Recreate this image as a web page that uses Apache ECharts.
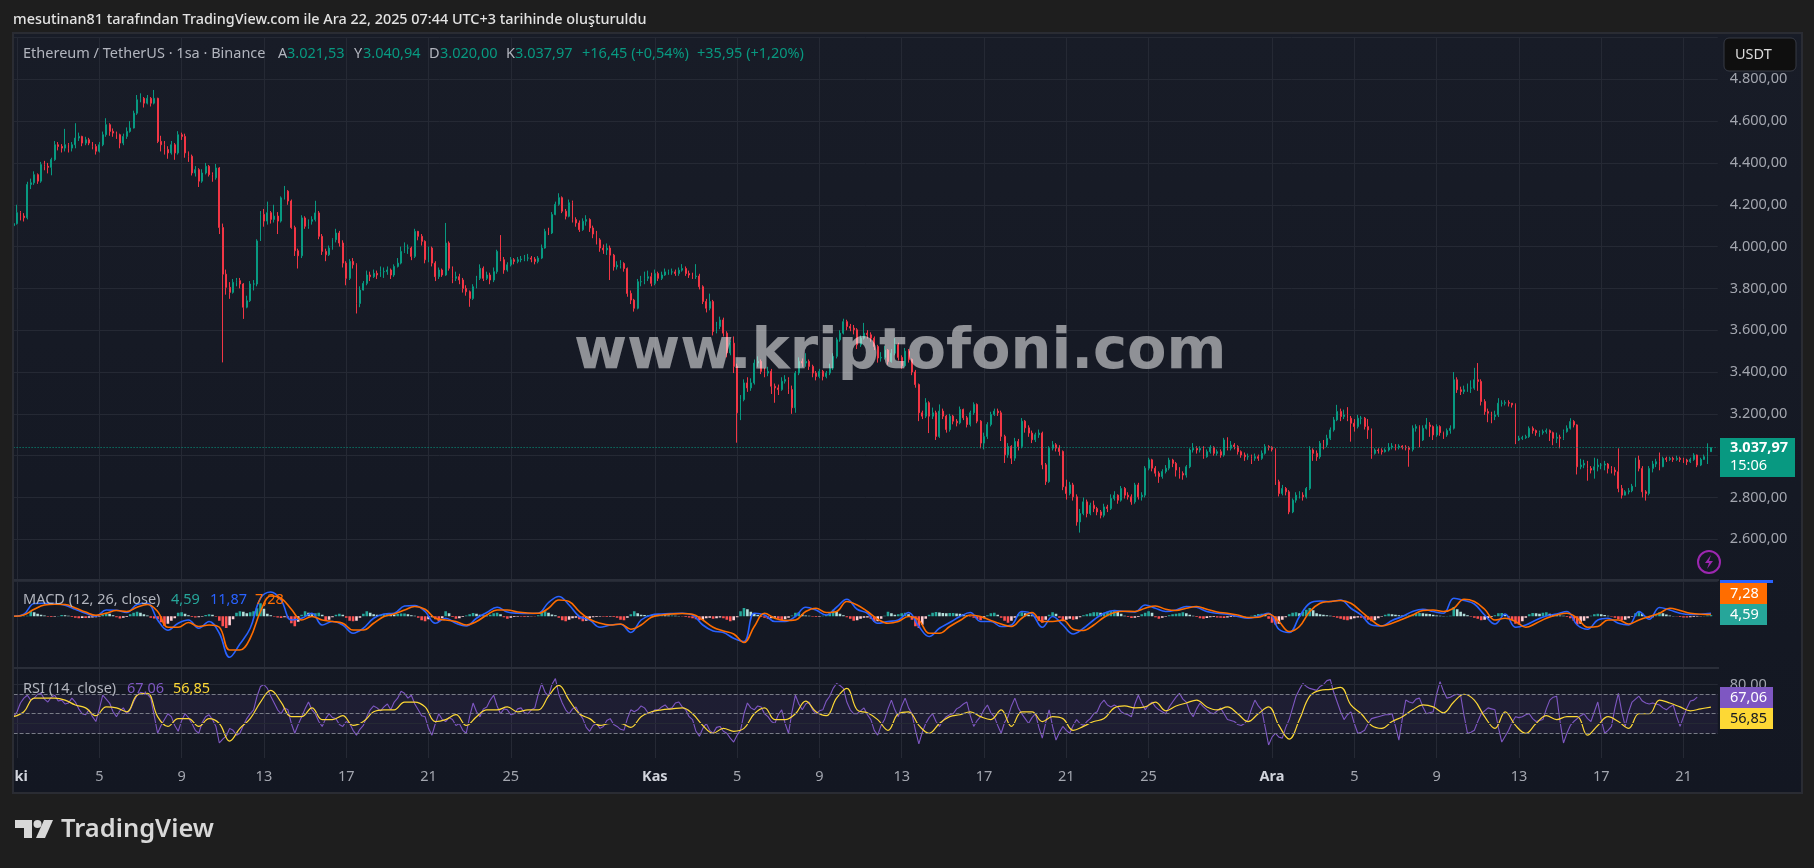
<!DOCTYPE html>
<html>
<head>
<meta charset="utf-8">
<title>ETHUSDT</title>
<style>
html,body{margin:0;padding:0;background:#1e1e1e;overflow:hidden}
#chart{width:1814px;height:868px}
</style>
<script src="https://cdn.jsdelivr.net/npm/echarts@6/dist/echarts.min.js"></script>
</head>
<body>
<div id="chart"></div>
<script>
// fiyat - 4 saatlik okuma
var closes = [
4110,4162,4146,4138,4297,4305,4344,4313,4392,4384,4379,4416,
4487,4479,4471,4487,4471,4487,4519,4527,4495,4511,4495,4479,
4456,4487,4535,4583,4551,4543,4535,4495,4527,4551,4567,4638,
4702,4709,4686,4709,4686,4709,4503,4487,4464,4448,4487,4448,
4535,4527,4448,4432,4352,4368,4313,4352,4384,4344,4329,4376,
4091,3868,3805,3781,3829,3837,3821,3710,3741,3821,3821,4027,
4154,4122,4162,4130,4146,4122,4233,4265,4218,4091,3980,3956,
4137,4097,4121,4129,4161,4049,3977,3961,3993,4033,4065,4017,
3921,3848,3929,3913,3728,3792,3824,3864,3856,3872,3864,3880,
3880,3888,3864,3905,3921,3977,3993,3993,3953,4073,4049,4025,
3937,3993,3921,3856,3888,3864,4017,3896,3848,3856,3840,3800,
3784,3752,3808,3848,3896,3848,3864,3840,3880,3977,3937,3888,
3913,3937,3929,3937,3940,3945,3945,3940,3929,3945,3993,4073,
4065,4153,4202,4234,4169,4145,4210,4129,4113,4081,4121,4129,
4089,4060,4032,3993,3984,3993,3959,3903,3911,3919,3895,3776,
3744,3705,3832,3832,3848,3856,3824,3871,3848,3864,3879,3879,
3879,3871,3887,3895,3871,3864,3856,3859,3808,3737,3705,3737,
3594,3618,3649,3586,3491,3538,3427,3205,3268,3348,3324,3348,
3443,3451,3403,3395,3403,3332,3324,3316,3356,3364,3316,3229,
3395,3451,3443,3451,3427,3395,3379,3403,3379,3395,3419,3475,
3554,3586,3641,3618,3610,3602,3530,3562,3586,3578,3562,3522,
3467,3470,3505,3450,3490,3530,3470,3430,3500,3460,3400,3340,
3205,3189,3253,3189,3205,3092,3213,3189,3125,3189,3165,3157,
3221,3181,3149,3205,3245,3165,3060,3092,3149,3197,3213,3205,
3092,3004,3044,2988,3068,3044,3165,3133,3108,3076,3100,3108,
2956,2876,3036,3052,3036,3020,2851,2819,2860,2803,2683,2723,
2779,2723,2763,2747,2731,2715,2755,2747,2795,2811,2787,2843,
2811,2803,2779,2860,2803,2811,2940,2980,2940,2916,2900,2924,
2940,2979,2963,2931,2915,2907,2947,3027,3035,3027,3035,2995,
3019,3040,3011,3019,3003,3075,3035,3051,3043,3019,3003,2995,
2995,2987,2995,2987,3011,3043,3040,3030,2875,2819,2843,2827,
2731,2787,2811,2811,2803,2843,3027,3011,2995,3059,3051,3083,
3123,3171,3211,3187,3195,3179,3155,3139,3179,3179,3139,3123,
3011,3027,3024,3019,3027,3040,3046,3040,3046,3040,3038,3030,
3131,3139,3075,3131,3147,3139,3099,3139,3110,3099,3120,3131,
3363,3315,3307,3315,3323,3323,3363,3355,3259,3211,3203,3187,
3195,3251,3251,3254,3251,3243,3075,3083,3086,3091,3131,3120,
3110,3110,3115,3120,3110,3083,3088,3083,3115,3131,3163,3147,
2947,2955,2963,2939,2931,2947,2955,2955,2960,2939,2931,2923,
2843,2811,2827,2832,2854,2979,2939,2827,2819,2939,2960,2971,
2947,2987,2982,2987,2982,2987,2982,2979,2971,2982,3003,2955,
2982,2995,3019,3037.97
];
var highs = [
4125,4200,4170,4160,4310,4325,4360,4350,4405,4410,4400,4425,
4505,4500,4490,4563,4495,4500,4590,4545,4530,4525,4520,4500,
4490,4500,4550,4614,4590,4565,4550,4540,4540,4570,4600,4650,
4725,4733,4715,4725,4715,4749,4712,4530,4505,4480,4505,4495,
4552,4545,4540,4455,4440,4385,4375,4370,4400,4390,4355,4395,
4380,4110,3890,3830,3845,3850,3850,3825,3765,3835,3840,4035,
4170,4180,4215,4170,4200,4165,4240,4290,4270,4225,4100,3990,
4150,4145,4130,4145,4219,4170,4060,3990,4005,4040,4085,4075,
4030,3930,3940,3945,3920,3810,3835,3885,3880,3890,3885,3905,
3900,3905,3895,3915,3945,4000,4020,4010,4000,4085,4075,4060,
4030,4000,4000,3930,3900,3895,4113,4025,3905,3880,3870,3850,
3815,3790,3820,3860,3915,3905,3880,3875,3900,3985,4055,3950,
3925,3950,3945,3950,3955,3960,3965,3955,3950,3955,4010,4085,
4090,4165,4215,4255,4240,4180,4225,4220,4140,4125,4135,4150,
4135,4100,4075,4040,4010,4015,4005,3965,3930,3935,3925,3900,
3790,3750,3845,3860,3880,3885,3875,3890,3880,3880,3895,3890,
3895,3890,3900,3916,3905,3885,3875,3916,3870,3815,3750,3775,
3745,3640,3665,3660,3595,3550,3570,3440,3290,3365,3375,3370,
3460,3475,3460,3420,3425,3415,3345,3340,3375,3385,3375,3335,
3405,3470,3465,3490,3460,3435,3405,3415,3410,3405,3440,3490,
3565,3600,3655,3650,3630,3625,3610,3575,3635,3600,3590,3570,
3530,3495,3525,3510,3510,3562,3540,3480,3515,3510,3465,3410,
3345,3215,3275,3260,3230,3215,3245,3225,3195,3200,3195,3175,
3235,3225,3190,3215,3255,3250,3170,3110,3160,3210,3225,3225,
3215,3100,3060,3050,3085,3080,3180,3170,3145,3120,3110,3125,
3115,2965,3045,3070,3060,3050,3025,2885,2875,2870,2815,2745,
2800,2790,2775,2785,2755,2740,2770,2765,2815,2830,2815,2855,
2850,2825,2815,2870,2870,2825,2950,2990,2985,2950,2925,2935,
2955,2990,2985,2970,2945,2925,2955,3035,3060,3045,3045,3045,
3030,3050,3045,3030,3030,3085,3088,3070,3060,3050,3025,3015,
3010,3005,3010,3005,3025,3055,3050,3045,3035,2885,2860,2850,
2835,2795,2825,2830,2825,2850,3045,3035,3025,3070,3075,3100,
3135,3185,3243,3225,3220,3232,3190,3175,3195,3190,3185,3175,
3130,3035,3035,3035,3035,3060,3060,3055,3055,3050,3050,3045,
3145,3150,3145,3145,3180,3160,3145,3150,3145,3115,3130,3145,
3400,3375,3330,3335,3345,3360,3420,3443,3365,3270,3225,3210,
3215,3275,3265,3265,3265,3250,3250,3095,3095,3100,3140,3140,
3125,3120,3125,3130,3125,3115,3110,3100,3125,3145,3179,3170,
3150,2985,2980,2975,2950,2990,2985,2965,2975,2965,2950,2945,
3035,2860,2835,2845,2865,2990,3000,2950,2835,2950,2975,2985,
3015,2995,2995,2995,2995,3000,2995,2990,2985,2990,3012,3005,
2990,3005,3059,3040.94
];
var lows = [
4095,4105,4125,4120,4130,4275,4295,4300,4305,4365,4350,4341,
4410,4460,4450,4455,4450,4455,4470,4505,4480,4485,4485,4465,
4440,4450,4480,4525,4530,4525,4515,4470,4485,4515,4545,4565,
4630,4690,4665,4680,4670,4680,4495,4455,4440,4420,4440,4415,
4440,4510,4425,4405,4340,4335,4285,4305,4345,4335,4310,4320,
4060,3446,3770,3750,3775,3810,3800,3654,3705,3735,3790,3810,
4030,4095,4105,4110,4115,4060,4115,4225,4200,4085,3955,3895,
3945,4085,4085,4105,4120,4035,3960,3930,3955,3985,4020,4000,
3900,3815,3840,3895,3680,3710,3790,3815,3835,3850,3845,3855,
3850,3865,3845,3855,3900,3915,3970,3965,3935,3945,4030,4005,
3920,3925,3905,3835,3845,3855,3860,3885,3825,3835,3820,3780,
3765,3712,3745,3800,3840,3835,3840,3820,3830,3870,3930,3870,
3880,3905,3915,3920,3925,3930,3930,3925,3915,3920,3940,3990,
4055,4060,4150,4195,4160,4130,4140,4115,4095,4070,4075,4100,
4070,4040,4010,3975,3965,3960,3840,3885,3890,3895,3880,3760,
3725,3689,3700,3810,3820,3835,3810,3815,3835,3840,3860,3865,
3865,3860,3860,3880,3860,3850,3845,3845,3795,3725,3685,3695,
3575,3585,3605,3570,3470,3480,3395,3062,3170,3260,3305,3310,
3340,3425,3390,3375,3380,3295,3253,3290,3310,3345,3295,3200,
3205,3385,3425,3425,3410,3375,3360,3370,3360,3370,3385,3410,
3465,3545,3580,3600,3595,3580,3510,3520,3555,3560,3545,3505,
3445,3450,3460,3435,3445,3480,3455,3415,3425,3445,3385,3325,
3165,3175,3180,3108,3175,3075,3085,3175,3110,3115,3150,3140,
3150,3170,3135,3140,3195,3155,3035,3030,3080,3140,3190,3190,
3070,2965,2990,2960,2975,3025,3035,3110,3090,3060,3065,3085,
2935,2860,2870,3025,3020,3000,2835,2790,2810,2785,2665,2632,
2715,2705,2715,2730,2715,2700,2705,2730,2740,2785,2770,2780,
2795,2790,2765,2770,2790,2785,2800,2930,2925,2900,2870,2890,
2915,2930,2945,2900,2890,2885,2895,2940,3015,3010,3015,2985,
2990,3010,3000,3000,2990,2995,3025,3025,3030,3005,2990,2975,
2980,2960,2975,2975,2980,3005,3025,3020,2860,2805,2810,2810,
2720,2725,2775,2795,2785,2795,2835,2975,2975,2985,3030,3040,
3075,3115,3165,3165,3175,3165,3067,3115,3130,3150,3125,3080,
2985,3005,3010,3005,3015,3020,3030,3025,3030,3030,3025,2947,
3020,3115,3040,3070,3125,3090,3075,3090,3095,3080,3090,3105,
3125,3300,3290,3295,3305,3300,3315,3310,3240,3195,3160,3155,
3170,3185,3235,3240,3235,3230,3055,3070,3075,3080,3085,3105,
3095,3090,3100,3105,3070,3050,3060,3035,3075,3110,3125,3135,
2910,2935,2940,2880,2915,2890,2925,2935,2930,2915,2915,2905,
2825,2795,2810,2815,2825,2850,2925,2800,2785,2810,2920,2945,
2930,2945,2970,2975,2970,2975,2970,2965,2955,2965,2975,2945,
2950,2980,2960,3020
];
var firstOpen = 4100;
var lastPrice = 3037.97;

// MACD - cizgiler 12 saatte bir, histogram 4 saatte bir okuma
var macdStep = 3;
var macdLine = [
0,8,51,52,51,44,28,12,0,25,24,15,47,52,-15,-56,-28,-15,-48,-21,-68,-164,-111,-48,72,97,65,-15,-8,12,
-35,-21,-35,-68,-48,-8,9,12,41,43,19,-28,-8,-28,-39,-8,15,36,17,12,11,12,55,79,45,-1,-15,-44,-35,-32,
-65,-15,5,9,11,12,5,-35,-59,-65,-88,-101,12,5,-21,-21,-1,36,25,5,36,68,28,12,-28,-21,
-15,15,-41,-81,-48,-25,-1,15,-21,-21,-41,-35,19,9,-44,-1,-35,-71,-48,-15,12,23,19,17,45,32,19,25,39,36,
19,12,8,-1,-8,1,12,-52,-65,-1,52,61,59,65,32,5,-35,-39,-17,-1,19,28,19,12,72,63,49,5,-31,9,
-44,-35,-15,1,9,19,-35,-52,-15,-8,-28,-35,19,-12,35,25,12,7,8,11.87
];
var signalLine = [
0,5,28,45,48,47,33,17,4,12,23,19,36,47,19,-44,-44,-25,-41,-35,-44,-135,-135,-88,19,81,72,28,-15,-1,
-15,-21,-28,-55,-55,-28,-1,9,25,39,28,-8,-15,-21,-35,-21,5,25,25,17,13,12,32,65,59,19,-12,-28,-35,-31,
-52,-35,-4,5,9,11,8,-15,-44,-59,-71,-105,-41,12,-8,-17,-15,19,32,15,19,59,45,19,-12,-28,
-21,-1,-15,-68,-68,-41,-17,5,-1,-17,-31,-41,-8,15,-21,-21,-15,-52,-57,-35,-4,15,20,19,32,41,28,23,32,39,
28,17,12,5,-5,-4,9,-21,-61,-41,19,52,59,63,52,19,-15,-39,-28,-12,5,23,25,19,32,68,59,28,-15,-8,
-21,-44,-28,-8,5,12,-8,-44,-41,-15,-15,-31,-15,-1,12,32,23,12,8,7.28
];
var macdHist = [
0,0,1,1,2,22,16,10,6,3,-2,-3,-2,1,5,4,2,
-3,-6,-8,-7,-7,-6,-5,-4,-2,6,14,10,4,-4,-9,-6,-3,
8,14,18,14,8,3,-6,-9,-12,-24,-38,-30,-18,-8,
14,16,10,4,-3,-5,-4,-2,5,8,6,-2,-18,-40,-47,-36,-12,
14,20,18,12,16,20,32,52,30,10,4,-2,-5,-7,-4,
-8,-28,-40,-22,6,20,14,8,12,14,6,-18,-14,-4,6,10,6,-6,-18,-20,
-18,-6,10,20,14,8,6,6,8,9,8,7,9,11,11,8,4,
2,-6,-16,-20,-12,-4,-12,-20,-8,20,12,-3,-10,-8,-3,3,8,13,10,6,
3,2,6,12,14,8,-4,-10,-6,-3,-2,-2,-3,-2,-1,-1,
4,14,20,14,7,4,-6,-16,-20,-14,-8,-6,-12,-20,-18,-8,
-4,-3,-2,-2,-3,-2,-3,-6,-14,-16,-6,8,20,12,6,5,5,4,4,5,5,4,3,3,2,
1,-1,-3,-5,-8,-12,-16,-14,-8,-6,-10,-8,-5,-8,
-14,-20,-16,-4,20,33,28,18,10,5,-3,-6,-10,-8,-6,-10,-15,-12,-6,3,
14,16,8,3,2,-2,-3,-2,2,6,12,26,20,10,4,-4,-10,-18,-16,-10,-6,-5,-10,
-22,-20,-10,2,18,12,6,8,12,14,8,-14,-40,-47,-34,-10,6,
14,17,15,13,12,13,13,11,10,8,4,-2,-6,-12,-16,-8,4,12,14,6,
-6,-18,-26,-18,-6,8,16,12,6,4,-6,-18,-26,-14,6,16,10,
-6,-20,-14,-10,-14,-12,-4,4,8,12,16,16,14,14,18,22,24,18,10,2,-3,
-7,-6,-3,8,14,20,14,-4,-10,-6,-2,4,8,10,12,16,12,6,2,
-3,-8,-10,-7,-4,-3,-5,-6,-7,-5,-3,-2,-3,-2,-1,0,2,5,9,10,8,-10,-26,-33,
-30,-14,-4,8,14,16,12,18,26,33,24,12,8,6,4,2,
-3,-6,-10,-14,-16,-12,-8,-5,-6,-10,-14,-20,-16,-8,-2,6,10,8,6,
4,3,3,3,6,10,13,12,10,9,6,3,2,1,1,2,37,28,18,10,4,
-2,-6,-10,-16,-14,-8,-3,4,12,13,6,-6,-16,-30,-33,-20,-6,8,
13,12,10,14,16,10,6,4,3,2,-3,-8,-18,-33,-30,-18,-8,
2,8,10,8,5,2,-2,-6,-12,-16,-14,-8,-2,12,20,10,-2,-7,-4,4,
16,12,7,3,1,-1,-3,-5,-5,-4,-3,-2,-1,1,3,4.59
];

// RSI - 4 saatte bir, ortalamasi 12 saatte bir okuma
var rsiMaStep = 3;
var rsiLine = [
47,52,61,66,69,64,66,70,71,65,62,67,69,63,64,60,61,66,62,55,50,49,54,47,42,55,69,65,61,52,
47,53,56,50,54,62,69,72,71,70,66,48,30,38,44,50,47,38,32,43,50,46,40,33,30,41,47,49,44,37,
20,24,27,35,33,28,30,38,45,50,54,68,78,80,76,68,61,54,50,56,54,40,30,39,47,55,62,54,50,42,
37,45,50,46,45,39,37,42,40,33,28,34,38,47,54,58,56,53,57,60,54,62,66,73,71,66,69,60,54,48,
47,35,28,40,50,44,42,46,44,38,40,33,30,47,61,52,47,55,57,64,69,58,50,55,54,49,50,55,56,51,
50,54,56,70,81,72,68,80,86,70,61,54,50,55,57,50,45,36,32,38,40,35,37,43,45,39,37,34,33,45,
54,52,54,58,56,51,50,54,54,57,59,55,56,61,62,57,54,47,44,32,27,35,40,33,30,36,37,32,30,25,
21,28,33,50,61,56,54,58,57,50,47,42,40,49,54,40,30,52,69,60,54,60,62,54,50,53,54,63,68,76,
81,79,76,62,54,50,50,53,56,49,44,33,28,38,44,55,64,
54,47,58,66,56,50,33,19,31,40,46,50,42,37,43,47,49,50,55,57,60,62,48,37,43,47,54,59,51,47,
38,30,41,47,58,66,56,50,45,40,46,50,36,25,41,54,37,23,31,37,33,30,38,44,40,38,42,45,50,52,
60,64,59,57,59,57,52,50,49,47,60,69,61,54,59,62,57,54,52,50,57,62,67,71,65,62,52,47,55,61,
57,54,51,50,53,56,50,44,43,42,39,38,40,44,55,64,58,54,36,18,26,30,26,25,36,44,56,68,75,81,
78,76,75,74,78,80,84,85,72,62,52,44,49,52,40,30,31,33,40,45,46,47,48,49,49,50,37,23,45,64,
62,61,65,66,57,50,51,52,70,83,73,66,67,69,70,69,48,30,31,33,42,50,53,56,55,54,36,21,27,33,
41,47,46,47,49,50,45,42,43,44,55,64,67,68,42,20,30,38,42,45,48,50,45,42,52,62,44,30,33,37,
56,71,52,37,52,62,65,68,63,61,60,61,60,59,56,54,57,59,47,37,47,56,63,64,67.06
];
var rsiMa = [
47,52,66,66,66,64,59,56,48,57,56,52,69,71,47,37,45,45,37,45,40,22,35,45,62,74,62,47,47,56,
44,44,48,38,42,52,54,54,62,62,57,42,44,49,38,47,54,54,57,52,54,54,68,79,64,50,45,38,40,40,
36,47,52,54,55,56,50,38,30,35,32,35,50,56,44,44,50,63,52,48,66,76,54,51,44,33,
50,52,38,30,40,47,49,52,47,44,54,37,52,52,42,47,45,33,37,42,45,56,58,56,57,62,53,58,61,64,
57,54,57,50,42,50,57,38,24,44,68,74,75,77,59,50,38,35,42,47,54,59,57,51,62,70,64,47,35,52,
38,30,40,48,44,47,47,28,38,47,42,35,50,50,64,61,57,53,55,56.85
];
var rsiGuides = [70, 50, 30];
var rsiLevels = [80, 40];

// zaman ekseni
var barCount = 498;
var tickBars = [1,25,49,73,97,121,145,187,211,235,259,283,307,331,367,391,415,439,463,487];
var tickLabels = ['Eki','5','9','13','17','21','25','Kas','5','9','13','17','21','25','Ara','5','9','13','17','21'];
var monthLabels = ['Eki','Kas','Ara'];

var priceFont = '"Noto Sans", sans-serif';
var gridColor = '#252934';
var axisSize = 14.5;

var categories = [];
for(var i = 0; i < barCount; i++) {
	categories.push(String(i));
}

var candles = [];
for(var j = 0; j < closes.length; j++) {
	var o = j == 0 ? firstOpen : closes[j - 1];
	candles.push([o, closes[j], Math.min(lows[j], o, closes[j]), Math.max(highs[j], o, closes[j])]);
}

function sampled(list, step) {
	var out = [];
	for(var k = 0; k < list.length; k++) {
		out.push([k * step, list[k]]);
	}
	return out;
}

//turkce sayi bicimi
function trNumber(v) {
	var parts = v.toFixed(2).split('.');
	return parts[0].replace(/\B(?=(\d{3})+$)/g, '.') + ',' + parts[1];
}

function isTick(index) {
	return tickBars.indexOf(index) > -1;
}

function histColor(params) {
	var prev = params.dataIndex > 0 ? macdHist[params.dataIndex - 1] : 0;
	var v = macdHist[params.dataIndex];
	if(v >= 0) {
		return v >= prev ? '#26a69a' : '#b2dfdb';
	}
	return v <= prev ? '#ff5252' : '#ffcdd2';
}

function label(text, x, y, fill, size, weight) {
	return {
		type: 'text',
		z: 110,
		silent: true,
		style: {
			text: text,
			x: x,
			y: y,
			fill: fill,
			verticalAlign: 'middle',
			font: (weight || 'normal') + ' ' + (size || axisSize) + 'px ' + priceFont
		}
	};
}

function box(x, y, w, h, fill) {
	return { type: 'rect', z: 105, silent: true, shape: { x: x, y: y, width: w, height: h }, style: { fill: fill } };
}

var pricesGreen = '#089981';
var graphics = [
	//arka plan
	{ type: 'rect', z: -10, silent: true, shape: { x: 13, y: 33, width: 1789, height: 760 },
		style: { fill: new echarts.graphic.LinearGradient(0, 0, 0, 1, [{ offset: 0, color: '#181c27' }, { offset: 1, color: '#131722' }]) } },
	box(0, 33, 13, 760, '#1e1e1e'),
	{ type: 'rect', z: 106, silent: true, shape: { x: 13, y: 33, width: 1789, height: 760 }, style: { fill: null, stroke: '#2a2c33', lineWidth: 2 } },
	box(13, 579, 1706, 2, '#2a2e39'),
	box(13, 667, 1706, 2, '#2a2e39'),
	//baslik
	label('mesutinan81 tarafından TradingView.com ile Ara 22, 2025 07:44 UTC+3 tarihinde oluşturuldu', 13, 20, '#e2e2e2', 14.4, '500'),
	label('Ethereum / TetherUS · 1sa · Binance', 23, 54, '#b2b5be'),
	label('A', 278, 54, '#b2b5be'),
	label('3.021,53', 287, 54, pricesGreen),
	label('Y', 354, 54, '#b2b5be'),
	label('3.040,94', 363, 54, pricesGreen),
	label('D', 429, 54, '#b2b5be'),
	label('3.020,00', 440, 54, pricesGreen),
	label('K', 506, 54, '#b2b5be'),
	label('3.037,97', 515, 54, pricesGreen),
	label('+16,45 (+0,54%)', 582, 54, pricesGreen),
	label('+35,95 (+1,20%)', 697, 54, pricesGreen),
	//filigran
	{ type: 'text', z: 90, silent: true, style: { text: 'www.kriptofoni.com', x: 574, y: 353, fill: 'rgba(255,255,255,0.52)', verticalAlign: 'middle', font: 'bold 57.5px "DejaVu Sans"' } },
	//USDT
	{ type: 'rect', z: 105, silent: true, shape: { x: 1724, y: 38, width: 72, height: 33, r: 5 }, style: { fill: '#0f0f0f', stroke: '#363a45', lineWidth: 1 } },
	label('USDT', 1735, 55, '#dbdbdb'),
	//son fiyat
	box(1720, 438, 75, 39, pricesGreen),
	label('3.037,97', 1730, 448, '#ffffff', axisSize, 'bold'),
	label('15:06', 1730, 466, '#ffffff'),
	//simsek
	{ type: 'circle', z: 80, silent: true, shape: { cx: 1709, cy: 562, r: 11 }, style: { fill: 'none', stroke: '#9c27b0', lineWidth: 2 } },
	{ type: 'polygon', z: 80, silent: true, shape: { points: [[1711, 555], [1705, 563], [1709, 563], [1707, 569], [1713, 561], [1709, 561]] }, style: { fill: '#9c27b0' } },
	//MACD
	label('MACD (12, 26, close)', 23, 600, '#b2b5be'),
	label('4,59', 171, 600, '#26a69a'),
	label('11,87', 210, 600, '#2962ff'),
	label('7,28', 255, 600, '#ff6d00'),
	box(1720, 580, 53, 3, '#2962ff'),
	box(1720, 583, 47, 21, '#ff6d00'),
	label('7,28', 1730, 594, '#ffffff'),
	box(1720, 604, 47, 21, '#26a69a'),
	label('4,59', 1730, 615, '#ffffff'),
	//RSI
	label('RSI (14, close)', 23, 689, '#b2b5be'),
	label('67,06', 127, 689, '#7e57c2'),
	label('56,85', 173, 689, '#fdd835'),
	box(1720, 687, 53, 21, '#7e57c2'),
	label('67,06', 1730, 698, '#ffffff'),
	box(1720, 708, 53, 21, '#fdd835'),
	label('56,85', 1730, 719, '#131722'),
	//logo
	{ type: 'polygon', z: 110, silent: true, shape: { points: [[15, 820], [32, 820], [32, 838], [24, 838], [24, 828], [15, 828]] }, style: { fill: '#d8d8d8' } },
	{ type: 'circle', z: 110, silent: true, shape: { cx: 37.5, cy: 824, r: 4 }, style: { fill: '#d8d8d8' } },
	{ type: 'polygon', z: 110, silent: true, shape: { points: [[44, 820], [53, 820], [45, 838], [36, 838]] }, style: { fill: '#d8d8d8' } },
	label('TradingView', 61, 830, '#d8d8d8', 25.5, '600')
];

function timeAxis(gridIndex, withLabels) {
	return {
		type: 'category',
		gridIndex: gridIndex,
		data: categories,
		boundaryGap: false,
		axisLine: { show: false },
		axisTick: { show: false },
		splitLine: { show: true, interval: function(index) { return isTick(index); }, lineStyle: { color: gridColor, width: 1 } },
		axisLabel: {
			show: withLabels,
			interval: function(index) { return isTick(index); },
			margin: 11,
			color: '#a3a6af',
			fontSize: axisSize,
			fontFamily: 'Noto Sans',
			formatter: function(value, index) {
				var t = tickLabels[tickBars.indexOf(index)];
				return monthLabels.indexOf(t) > -1 ? '{m|' + t + '}' : t;
			},
			rich: { m: { fontWeight: 'bold', color: '#d1d4dc', fontSize: axisSize, fontFamily: 'Noto Sans' } }
		}
	};
}

var chartOption = {
	animation: false,
	backgroundColor: '#1e1e1e',
	textStyle: { fontFamily: 'Noto Sans' },
	graphic: { elements: graphics },
	grid: [
		{ left: 13.6, width: 1704.2, top: 37.5, height: 543.6 },
		{ left: 13.6, width: 1704.2, top: 581, height: 87 },
		{ left: 13.6, width: 1704.2, top: 669, height: 89 }
	],
	xAxis: [timeAxis(0, false), timeAxis(1, false), timeAxis(2, true)],
	yAxis: [{
		type: 'value',
		gridIndex: 0,
		position: 'right',
		min: 2400,
		max: 5000,
		interval: 200,
		axisLine: { show: false },
		axisTick: { show: false },
		splitLine: { lineStyle: { color: gridColor, width: 1 } },
		axisLabel: { margin: 12, color: '#a3a6af', fontSize: axisSize, fontFamily: 'Noto Sans', showMinLabel: false, showMaxLabel: false, formatter: trNumber }
	}, {
		type: 'value',
		gridIndex: 1,
		min: -207,
		max: 141,
		show: false,
		splitLine: { show: false }
	}, {
		type: 'value',
		gridIndex: 2,
		position: 'right',
		min: 4.6,
		max: 95.9,
		axisLine: { show: false },
		axisTick: { show: false },
		splitLine: { show: false },
		axisLabel: { margin: 12, color: '#a3a6af', fontSize: axisSize, fontFamily: 'Noto Sans', customValues: [80], formatter: trNumber }
	}],
	series: [{
		type: 'candlestick',
		xAxisIndex: 0,
		yAxisIndex: 0,
		barWidth: 1.4,
		data: candles,
		itemStyle: { color: pricesGreen, color0: '#f23645', borderColor: pricesGreen, borderColor0: '#f23645', borderWidth: 1 },
		markLine: {
			silent: true,
			symbol: ['none', 'none'],
			label: { show: false },
			lineStyle: { type: [1, 2], color: pricesGreen, width: 1 },
			data: [{ yAxis: lastPrice }]
		}
	}, {
		type: 'bar',
		xAxisIndex: 1,
		yAxisIndex: 1,
		barWidth: 2.6,
		data: sampled(macdHist, 1),
		itemStyle: { color: histColor }
	}, {
		type: 'line',
		xAxisIndex: 1,
		yAxisIndex: 1,
		showSymbol: false,
		smooth: 0.4,
		data: sampled(macdLine, macdStep),
		lineStyle: { color: '#2962ff', width: 1.6 }
	}, {
		type: 'line',
		xAxisIndex: 1,
		yAxisIndex: 1,
		showSymbol: false,
		smooth: 0.4,
		data: sampled(signalLine, macdStep),
		lineStyle: { color: '#ff6d00', width: 1.6 }
	}, {
		type: 'line',
		xAxisIndex: 2,
		yAxisIndex: 2,
		showSymbol: false,
		data: sampled(rsiLine, 1),
		lineStyle: { color: '#7e57c2', width: 1.1 },
		markArea: {
			silent: true,
			itemStyle: { color: 'rgba(126,87,194,0.1)' },
			data: [[{ yAxis: rsiGuides[2] }, { yAxis: rsiGuides[0] }]]
		},
		markLine: {
			silent: true,
			symbol: ['none', 'none'],
			label: { show: false },
			data: rsiGuides.map(function(v) {
				return { yAxis: v, lineStyle: { type: 'dashed', color: '#787b86', width: 1 } };
			}).concat(rsiLevels.map(function(v) {
				return { yAxis: v, lineStyle: { type: 'solid', color: gridColor, width: 1 } };
			}))
		}
	}, {
		type: 'line',
		xAxisIndex: 2,
		yAxisIndex: 2,
		showSymbol: false,
		smooth: 0.4,
		data: sampled(rsiMa, rsiMaStep),
		lineStyle: { color: '#fdd835', width: 1.2 }
	}]
};

var chart = echarts.init(document.getElementById('chart'));
chart.setOption(chartOption);
</script>
</body>
</html>
